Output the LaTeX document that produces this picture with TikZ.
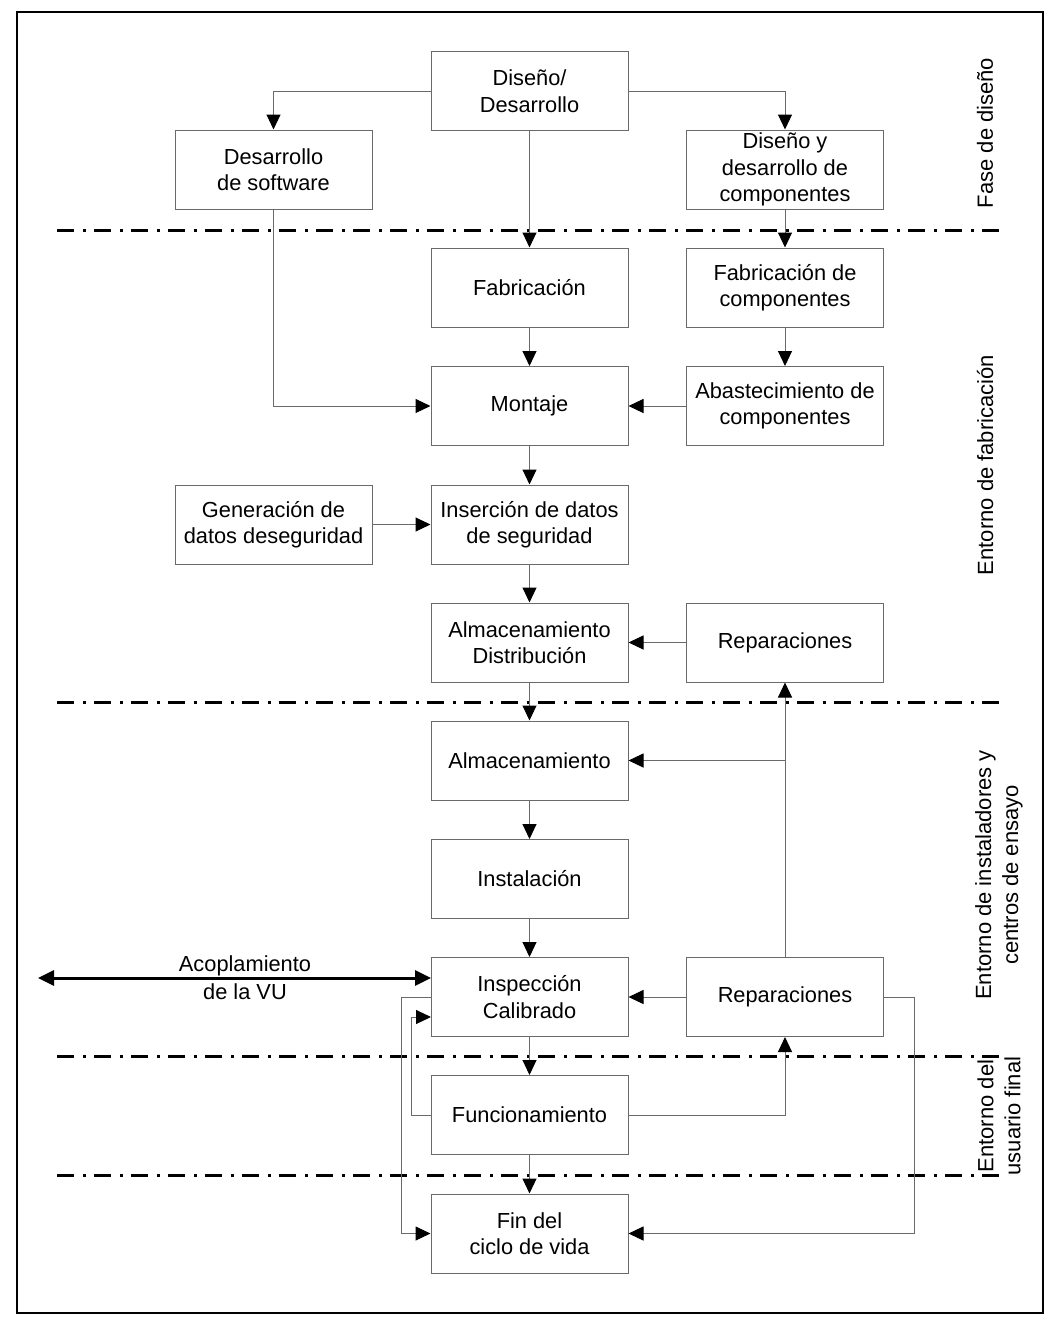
\documentclass[tikz,border=0pt]{standalone}
\usepackage{fontspec}
\setmainfont{Liberation Sans}
\usetikzlibrary{arrows.meta}
\definecolor{ln}{HTML}{6A6A6A}
\tikzset{
  box/.style={draw=ln, line width=1pt, minimum width=197pt, minimum height=79pt, inner sep=0pt, align=center, font=\fontsize{21.8}{26.5}\selectfont},
  arr/.style={draw=ln, line width=1pt, -{Triangle[length=15pt,width=14pt,fill=black,color=black]}},
  sep/.style={line width=3pt, dash pattern=on 17pt off 9pt on 3pt off 8pt},
  side/.style={rotate=90, align=center, font=\fontsize{22}{27}\selectfont},
}
\begin{document}
\begin{tikzpicture}[x=1pt,y=-1pt]
\useasboundingbox (0,0) rectangle (1056,1331);
\draw[line width=2pt] (17,12) rectangle (1043,1313);
% separators
\draw[sep] (57,230) -- (1003,230);
\draw[sep] (57,702) -- (1003,702);
\draw[sep] (57,1056) -- (1003,1056);
\draw[sep] (57,1175) -- (1003,1175);
% boxes
\node[box] (dd) at (529.5,91) {Diseño/\\Desarrollo};
\node[box] (sw) at (273.5,169.5) {Desarrollo\\de software};
\node[box] (dc) at (785,169.5) {Diseño y\\desarrollo de\\componentes};
\node[box] (fab) at (529.5,287.5) {Fabricación};
\node[box] (fc) at (785,287.5) {Fabricación de\\componentes};
\node[box] (mon) at (529.5,406) {Montaje};
\node[box] (aba) at (785,406) {Abastecimiento de\\componentes};
\node[box] (gen) at (273.5,524.5) {Generación de\\datos deseguridad};
\node[box] (ins) at (529.5,524.5) {Inserción de datos\\de seguridad};
\node[box] (ad) at (529.5,642.5) {Almacenamiento\\Distribución};
\node[box] (rep1) at (785,642.5) {Reparaciones};
\node[box] (alm) at (529.5,760.5) {Almacenamiento};
\node[box] (inst) at (529.5,879) {Instalación};
\node[box] (insp) at (529.5,997) {Inspección\\Calibrado};
\node[box] (rep2) at (785,997) {Reparaciones};
\node[box] (fun) at (529.5,1115) {Funcionamiento};
\node[box] (fin) at (529.5,1233.5) {Fin del\\ciclo de vida};
% side labels
\node[side] (s1) at (985,133) {Fase de diseño};
\node[side] (s2) at (985,465) {Entorno de fabricación};
\node[side] (s3) at (999,875) {Entorno de instaladores y\\centros de ensayo};
\node[side] (s4) at (999,1116) {Entorno del\\usuario final};
% coupling
\coordinate (acL) at (38,978);
\coordinate (acR) at (431,978);
\draw[line width=3pt, {Triangle[length=16pt,width=15pt]}-{Triangle[length=16pt,width=15pt]}] (acL) -- (acR);
\node[align=center, font=\fontsize{21.8}{28}\selectfont] (acl) at (245,978) {Acoplamiento\\de la VU};
% connectors
\draw[arr] (dd.west) -| (sw.north);
\draw[arr] (dd.east) -| (dc.north);
\draw[arr] (dd.south) -- (fab.north);
\draw[arr] (dc.south) -- (fc.north);
\draw[arr] (sw.south) |- (mon.west);
\draw[arr] (fab.south) -- (mon.north);
\draw[arr] (fc.south) -- (aba.north);
\draw[arr] (aba.west) -- (mon.east);
\draw[arr] (mon.south) -- (ins.north);
\draw[arr] (gen.east) -- (ins.west);
\draw[arr] (ins.south) -- (ad.north);
\draw[arr] (rep1.west) -- (ad.east);
\draw[arr] (ad.south) -- (alm.north);
\draw[arr] (alm.south) -- (inst.north);
\draw[arr] (inst.south) -- (insp.north);
\draw[arr] (rep2.north) -- (rep1.south);
\draw[arr] (rep2.north |- alm.east) -- (alm.east);
\draw[arr] (rep2.west) -- (insp.east);
\draw[arr] (insp.south) -- (fun.north);
\draw[arr] (fun.south) -- (fin.north);
\draw[arr] (fun.east) -| (rep2.south);
\coordinate (rr) at (914,997);
\draw[arr] (rep2.east) -- (rr) |- (fin.east);
\coordinate (l1) at (401,997);
\draw[arr] (insp.west) -- (l1) |- (fin.west);
\coordinate (l2) at (411,1115);
\coordinate (inspB) at (431,1017);
\draw[arr] (fun.west) -- (l2) |- (inspB);
\end{tikzpicture}
\end{document}
